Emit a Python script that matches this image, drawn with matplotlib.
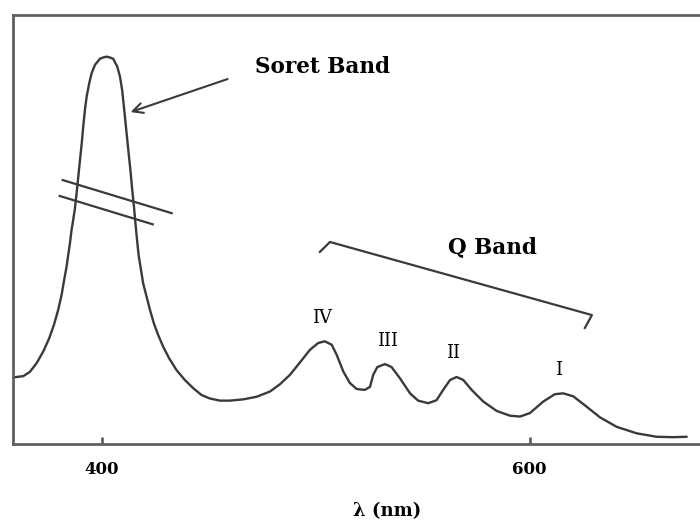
import matplotlib
matplotlib.use("Agg")
import matplotlib.pyplot as plt

# spectrum (wavelength in nm, absorbance in arbitrary units)
wavelength = [358.7, 363.4, 366.5, 369.6, 372.7, 375.5, 377.7, 379.7, 381.3, 382.5,
              383.6, 384.4, 385.2, 385.9, 386.7, 387.5, 388.3, 389.1, 389.9, 390.7,
              391.4, 392.2, 393.0, 394.2, 395.3, 396.9, 399.2, 400.7, 402.3, 403.9,
              405.4, 407.3, 408.6, 409.6, 410.4, 411.2, 412.0, 412.8, 413.6, 414.3,
              415.1, 415.8, 416.5, 417.3, 418.4, 419.4, 421.0, 422.6, 424.4, 426.4,
              428.8, 431.6, 435.0, 438.9, 442.8, 446.7, 450.6, 455.3, 460.0, 466.2,
              472.4, 478.6, 483.3, 488.0, 492.7, 497.3, 501.2, 504.3, 507.5, 509.8,
              512.9, 516.0, 519.2, 523.0, 525.4, 526.9, 528.8, 532.4, 535.5, 539.4,
              544.1, 547.9, 552.6, 556.5, 559.6, 562.8, 565.9, 569.0, 572.9, 578.3,
              584.6, 590.8, 595.5, 600.1, 606.4, 611.8, 615.7, 620.4, 626.6, 632.9,
              640.7, 650.0, 659.3, 667.1, 673.4]
absorbance = [0.156, 0.159, 0.169, 0.189, 0.216, 0.247, 0.278, 0.313, 0.348, 0.383,
              0.413, 0.441, 0.468, 0.497, 0.522, 0.548, 0.584, 0.623, 0.662, 0.700,
              0.739, 0.778, 0.809, 0.840, 0.863, 0.883, 0.897, 0.900, 0.902, 0.900,
              0.897, 0.879, 0.855, 0.824, 0.786, 0.747, 0.708, 0.669, 0.631, 0.592,
              0.553, 0.515, 0.478, 0.440, 0.406, 0.375, 0.344, 0.313, 0.282, 0.255,
              0.227, 0.200, 0.173, 0.150, 0.131, 0.115, 0.107, 0.102, 0.102, 0.105,
              0.111, 0.123, 0.140, 0.162, 0.191, 0.220, 0.236, 0.240, 0.232, 0.209,
              0.170, 0.143, 0.129, 0.127, 0.134, 0.162, 0.180, 0.187, 0.180, 0.154,
              0.119, 0.102, 0.096, 0.103, 0.127, 0.150, 0.157, 0.150, 0.127, 0.100,
              0.078, 0.067, 0.065, 0.073, 0.100, 0.117, 0.119, 0.112, 0.088, 0.063,
              0.041, 0.026, 0.018, 0.017, 0.018]

# Q band peak labels
q_labels = ["IV", "III", "II", "I"]
q_label_x = [502.8, 533.6, 564.3, 613.4]
q_label_y = [0.294, 0.241, 0.213, 0.173]

xticks = [400, 600]

line_col = "#3a3a3a"
axis_col = "#606060"

fig = plt.figure(figsize=(7, 5.2), dpi=100)
ax = fig.add_axes([0.0186, 0.1452, 0.9814, 0.8269])

ax.plot(wavelength, absorbance, color=line_col, lw=1.7,
        solid_joinstyle="round", solid_capstyle="round")

ax.set_xlim(358.6, 679.6)
ax.set_ylim(0, 1)
ax.spines["right"].set_visible(False)
for s in ["left", "top", "bottom"]:
    ax.spines[s].set_color(axis_col)
    ax.spines[s].set_linewidth(2)
ax.set_yticks([])
ax.set_xticks(xticks)
ax.set_xticklabels([str(t) for t in xticks], family="DejaVu Serif", weight="bold", size=12)
ax.tick_params(axis="x", direction="in", length=5, width=2, color=axis_col, pad=12)

# axis break marks on the Soret peak
ax.plot([381.8, 432.7], [0.615, 0.538], color=line_col, lw=1.6)
ax.plot([380.4, 423.9], [0.578, 0.512], color=line_col, lw=1.6)

# Soret band label and arrow
ax.text(471.7, 0.878, "Soret Band", family="DejaVu Serif", weight="bold", size=15.5,
        va="center", ha="left")
ax.annotate("", xy=(412.3, 0.771), xytext=(460.1, 0.852),
            arrowprops=dict(arrowstyle="->", lw=1.5, color=line_col, mutation_scale=18))

# Q band bracket
ax.plot([502.0, 506.7, 629.1, 625.8], [0.448, 0.471, 0.301, 0.271], color=line_col, lw=1.6)
ax.text(582.6, 0.459, "Q Band", family="DejaVu Serif", weight="bold", size=15.5,
        va="center", ha="center")

for lab, x, y in zip(q_labels, q_label_x, q_label_y):
    ax.text(x, y, lab, family="DejaVu Serif", size=13, ha="center", va="center")

fig.text(387 / 700, 1 - 511 / 520, "λ (nm)", family="DejaVu Serif", weight="bold",
         size=13, ha="center", va="center")

fig.savefig("out.png", dpi=100)
